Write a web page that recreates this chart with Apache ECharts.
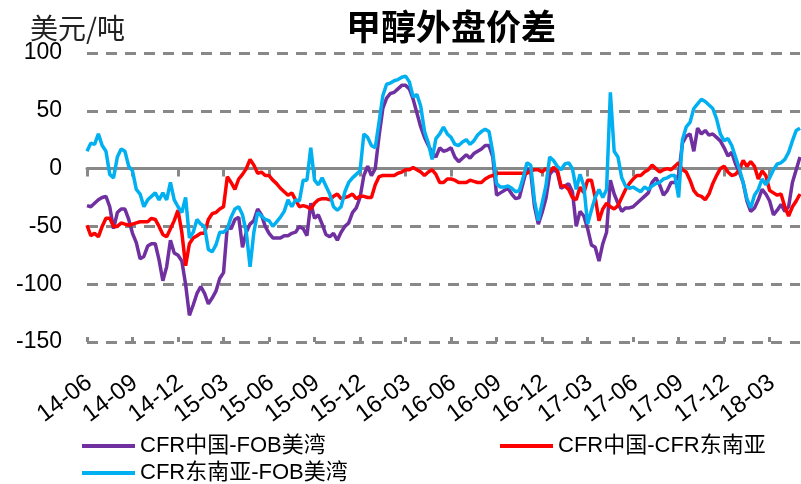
<!DOCTYPE html>
<html>
<head>
<meta charset="utf-8">
<script src="https://cdn.jsdelivr.net/npm/echarts@6/dist/echarts.min.js"></script>
<style>
html, body { margin: 0; padding: 0; background: #fff; }
#chart { width: 801px; height: 484px; }
</style>
</head>
<body>
<div id="chart"></div>
<script>
// 采样点：每月 1/8/16/23 日，2014-06 到 2018-05
var startYear = 2014, startMonth = 6, pointCount = 189;
var sampleDays = ['01', '08', '16', '23'];
var dates = [];
for (var i = 0; i < pointCount; i++) {
  var m = startMonth - 1 + Math.floor(i / 4);
  var y = startYear + Math.floor(m / 12);
  var mm = (m % 12) + 1;
  dates.push(y + '-' + (mm < 10 ? '0' + mm : mm) + '-' + sampleDays[i % 4]);
}

var seriesNames = ['CFR中国-FOB美湾', 'CFR中国-CFR东南亚', 'CFR东南亚-FOB美湾'];

// CFR中国-FOB美湾
var cnUsg = [
  -32, -33, -30, -27, -25, -24, -33, -52, -38, -35, -35, -44,
  -56, -64, -78, -76, -67, -65, -65, -79, -97, -85, -62, -73,
  -75, -80, -100, -127, -118, -108, -102, -108, -117, -112, -106, -95,
  -90, -50, -52, -44, -42, -68, -55, -48, -45, -35, -40, -50,
  -56, -60, -60, -60, -58, -58, -56, -55, -50, -52, -58, -30,
  -43, -40, -48, -57, -59, -56, -62, -55, -50, -47, -38, -34,
  -25, -6, 2, -6, 0, 28, 52, 61, 65, 66, 69, 72,
  72, 69, 60, 48, 36, 27, 20, 14, 10, 18, 15, 16,
  18, 10, 6, 9, 12, 9, 13, 15, 17, 20, 20, 10,
  -23, -21, -19, -17, -22, -26, -25, -12, 0, -3, -33, -48,
  -38, -26, -5, -1, -3, -17, -15, -13, -20, -50, -37, -41,
  -52, -66, -68, -80, -65, -55, -10, -22, -30, -37, -34, -34,
  -33, -30, -27, -24, -21, -12, -8, -14, -23, -19, -12, -12,
  -5, 22, 28, 30, 15, 35, 30, 33, 29, 30, 27, 24,
  18, 11, 14, 4, -3, -12, -28, -37, -34, -27, -18, -22,
  -28, -40, -36, -31, -37, -33, -12, -1, 10
];

// CFR中国-CFR东南亚
var cnSea = [
  -49, -58, -56, -59, -50, -43, -43, -50, -50, -47, -48, -49,
  -48, -47, -46, -46, -46, -43, -44, -50, -57, -59, -52, -45,
  -36, -55, -84, -65, -60, -58, -56, -56, -44, -39, -38, -35,
  -33, -7, -12, -18, -9, -5, 0, 8, 3, -4, -3, -6,
  -6, -10, -13, -17, -20, -23, -21, -27, -33, -32, -33, -35,
  -30, -27, -26, -26, -27, -24, -22, -26, -25, -24, -22, -26,
  -24, -24, -25, -25, -14, -7, -6, -6, -6, -6, -4, -3,
  -1, -1, 1, -1, -3, -6, -3, -1, -5, -12, -12, -9,
  -9, -10, -12, -12, -12, -10, -11, -12, -12, -9, -7, -6,
  -4, -4, -4, -4, -4, -4, -4, -4, -4, -2, -1, -1,
  -3, 0, -3, 1, -1, -15, -15, -18, -25, -27, -16, -21,
  -10, -10, -25, -45, -35, -30, -33, -35, -32, -25, -18, -13,
  -9, -6, -6, -3, -1, 3, 0, -3, -1, 0, -1, 2,
  5, -1, -3, -10, -19, -23, -24, -27, -22, -13, -6, 0,
  2, -3, -6, -5, -1, 7, 2, 6, 2, -9, -2, -6,
  -19, -21, -23, -22, -33, -41, -33, -28, -22
];

// CFR东南亚-FOB美湾
var seaUsg = [
  15, 22, 21, 30, 20, 15, -5, -8, 10, 17, 15, 2,
  -2, -18, -22, -33, -27, -24, -21, -27, -21, -27, -12, -27,
  -33, -38, -25, -60, -55, -44, -48, -50, -70, -72, -66, -55,
  -55, -52, -42, -35, -33, -40, -55, -85, -55, -38, -41, -44,
  -45, -50, -46, -42, -37, -27, -33, -27, -28, -10, -10, 18,
  -10, -14, -8, -15, -22, -33, -36, -33, -20, -12, -8, -5,
  -2, 30, 27, 20, 18, 40, 63, 73, 74, 76, 77, 79,
  80, 75, 62, 64, 54, 32, 22, 8, 26, 30, 36, 30,
  27, 21, 20, 23, 25, 21, 24, 29, 32, 34, 32, 14,
  -13, -16, -16, -15, -17, -20, -19, -8, 5, 3, -28, -45,
  -30, -15, 10, 7, 2, -1, 4, 5, 0, -18, -5, -15,
  -48, -36, -25, -18, -25, -18, 66, 15, 10, -8, -15, -17,
  -16, -18, -20, -16, -18, -15, -13, -12, -9, -8, -6, -6,
  -25, 25, 36, 40, 52, 56, 60, 58, 55, 52, 43, 30,
  24, 26, 20, 10, 0, -12, -26, -34, -23, -18, -9, -14,
  -8, -1, 4, 5, 8, 14, 24, 33, 35
];

var colors = ['#7030A0', '#FF0000', '#00B0F0'];
var fontFamily = "'Liberation Sans', 'Noto Sans CJK SC', sans-serif";

var myChart = echarts.init(document.getElementById('chart'));

function legendAt (name, left, top) {
  return {
    data: [name],
    left: left,
    top: top,
    icon: 'rect',
    itemWidth: 53,
    itemHeight: 4,
    padding: 0,
    textStyle: { fontSize: 22, color: '#000', fontFamily: fontFamily }
  };
}

myChart.setOption({
  animation: false,
  color: colors,
  title: {
    text: '甲醇外盘价差',
    left: 346,
    top: 9,
    padding: 0,
    textStyle: {
      fontFamily: "'Noto Sans CJK SC', sans-serif",
      fontWeight: 'bold',
      fontSize: 35,
      color: '#000'
    }
  },
  graphic: [{
    type: 'text',
    left: 30,
    top: 14,
    style: {
      text: '美元/吨',
      fontFamily: "'Noto Sans CJK SC', sans-serif",
      fontSize: 28,
      fill: '#222'
    }
  }],
  legend: [
    legendAt(seriesNames[0], 82, 435),
    legendAt(seriesNames[1], 500, 435),
    legendAt(seriesNames[2], 82, 462)
  ],
  grid: {
    left: 87,
    right: 1,
    top: 53,
    bottom: 142,
    containLabel: false
  },
  xAxis: [
    {
      type: 'category',
      data: dates,
      boundaryGap: false,
      axisLine: { show: true, lineStyle: { color: '#888', width: 3 } },
      axisTick: { show: true, interval: 11, length: 8, lineStyle: { color: '#888', width: 3 } },
      axisLabel: {
        interval: 11,
        rotate: 37,
        margin: 40,
        padding: [0, -3, 0, 0],
        fontSize: 24,
        color: '#000',
        fontFamily: fontFamily,
        formatter: function (value) {
          return value.substring(2, 7);
        }
      },
      splitLine: { show: false }
    },
    {
      type: 'category',
      data: dates,
      boundaryGap: false,
      position: 'bottom',
      axisLine: { show: false },
      axisTick: { show: true, inside: true, interval: 11, length: 5, lineStyle: { color: '#888', width: 3 } },
      axisLabel: { show: false },
      splitLine: { show: false }
    }
  ],
  yAxis: {
    type: 'value',
    min: -150,
    max: 100,
    interval: 50,
    axisLine: { show: false },
    axisTick: { show: false },
    axisLabel: {
      margin: 25,
      fontSize: 23,
      color: '#000',
      fontFamily: fontFamily
    },
    splitLine: {
      show: true,
      lineStyle: { color: '#888', width: 3, type: [11, 8] }
    }
  },
  series: [
    {
      name: seriesNames[0],
      type: 'line',
      data: cnUsg,
      showSymbol: false,
      lineStyle: { width: 3.5, color: colors[0] },
      itemStyle: { color: colors[0] }
    },
    {
      name: seriesNames[1],
      type: 'line',
      data: cnSea,
      showSymbol: false,
      lineStyle: { width: 3.5, color: colors[1] },
      itemStyle: { color: colors[1] }
    },
    {
      name: seriesNames[2],
      type: 'line',
      data: seaUsg,
      showSymbol: false,
      lineStyle: { width: 3.5, color: colors[2] },
      itemStyle: { color: colors[2] }
    }
  ]
});
</script>
</body>
</html>
